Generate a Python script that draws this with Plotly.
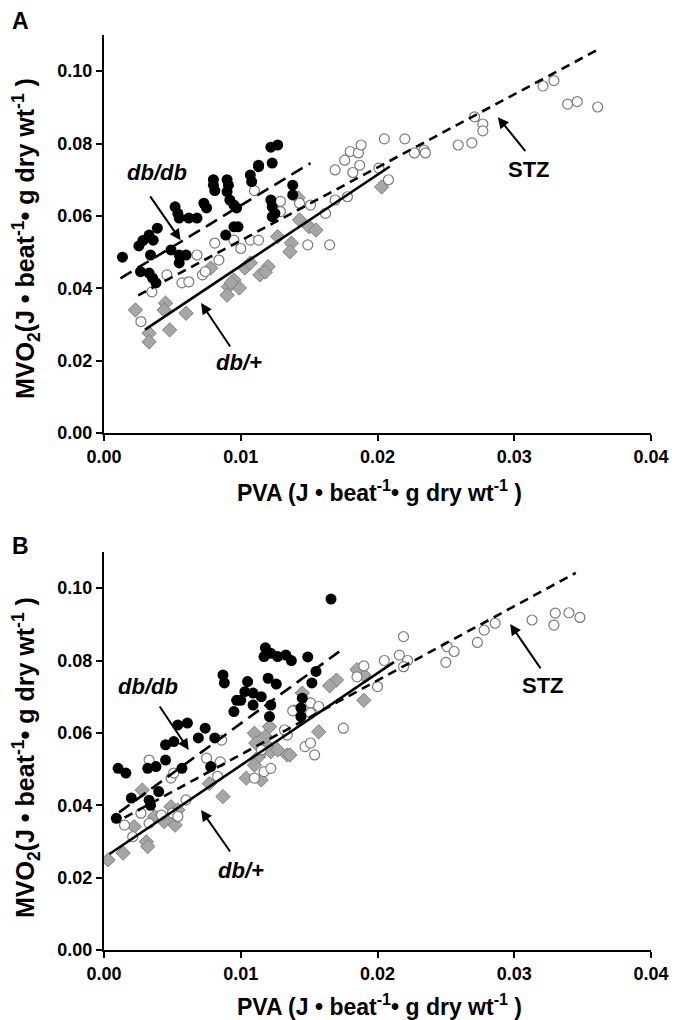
import plotly.graph_objects as go

# ---------------- Panel A data ----------------
a_dbdb_x = [0.00135,0.00255,0.00284,0.00267,0.0033,0.00356,0.0038,0.0033,0.0036,0.0034,0.0039,0.0049,0.0055,0.006,0.0055,
            0.0052,0.0054,0.0055,0.0062,0.0068,0.0073,0.0075,0.008,0.008,0.0081,0.009,0.0091,0.009,0.0092,0.0095,0.0097,
            0.0089,0.0095,0.0098,0.0107,0.0108,0.0113,0.0122,0.0127,0.0123,0.0113,0.0138,0.0138,0.0122,0.0123,0.0125,0.0123]
a_dbdb_y = [0.0486,0.0517,0.0532,0.0446,0.0442,0.0428,0.0415,0.0547,0.0533,0.0492,0.0566,0.0506,0.0492,0.0492,0.047,
            0.0625,0.0607,0.0594,0.0594,0.0594,0.0635,0.0622,0.070,0.0685,0.067,0.070,0.0685,0.0667,0.0644,0.063,0.0622,
            0.0547,0.057,0.057,0.0713,0.0695,0.074,0.079,0.0796,0.0746,0.0736,0.0685,0.0658,0.0644,0.0625,0.0607,0.0598]

a_stz_x = [0.0027,0.0035,0.0046,0.0057,0.0062,0.0072,0.0074,0.0068,0.0081,0.0084,0.0095,0.010,0.0107,0.011,0.0113,
           0.0129,0.0129,0.0143,0.0151,0.0162,0.0169,0.0178,0.0169,0.0176,0.018,0.0186,0.0188,0.0187,0.0182,0.0205,
           0.0201,0.0208,0.0149,0.0165,0.022,0.0227,0.0234,0.0235,0.0259,0.0269,0.0271,0.0277,0.0277,0.0321,0.0329,
           0.0339,0.0346,0.0361]
a_stz_y = [0.0308,0.039,0.0437,0.0415,0.0418,0.0437,0.0446,0.0492,0.0525,0.0478,0.0533,0.051,0.0533,0.067,0.0533,
           0.064,0.0612,0.0635,0.063,0.0607,0.0644,0.0653,0.0727,0.0754,0.0778,0.0774,0.0796,0.074,0.072,0.0813,
           0.0732,0.070,0.052,0.052,0.0813,0.0774,0.0782,0.0774,0.0796,0.0802,0.0874,0.0854,0.0835,0.0959,0.0974,
           0.0909,0.0916,0.0901]

a_dbp_x = [0.0023,0.0033,0.0033,0.0045,0.0044,0.0048,0.006,0.0078,0.0091,0.009,0.0095,0.0099,0.0103,0.0107,0.0114,
           0.012,0.0118,0.0127,0.0137,0.0136,0.0143,0.015,0.0155,0.0142,0.0203,0.0093]
a_dbp_y = [0.034,0.0276,0.0252,0.0359,0.034,0.0285,0.0331,0.0456,0.0404,0.0381,0.0423,0.0401,0.0456,0.047,0.0437,
           0.046,0.0445,0.0543,0.0525,0.0501,0.0589,0.057,0.0561,0.065,0.068,0.0415]

# regression lines: [intercept, slope, x_start, x_end]
a_fit_dbdb = [0.040, 2.29, 0.0012, 0.0151]
a_fit_stz = [0.033, 2.02, 0.0025, 0.0360]
a_fit_dbp = [0.021, 2.52, 0.0030, 0.0209]

# ---------------- Panel B data ----------------
b_dbdb_x = [0.00103,0.0016,0.0009,0.002,0.0033,0.0034,0.004,0.0032,0.0038,0.0045,0.0045,0.0051,0.0054,0.0061,0.0057,
            0.0069,0.0074,0.0081,0.0078,0.0087,0.0088,0.0095,0.010,0.0105,0.0103,0.0109,0.0115,0.0109,0.0122,0.0121,
            0.0117,0.0122,0.0127,0.012,0.0137,0.0145,0.0144,0.0144,0.0152,0.0166,0.0118,0.0133,0.0149,0.0155,0.0126,0.0097]
b_dbdb_y = [0.0502,0.0489,0.0364,0.042,0.0414,0.040,0.0438,0.0502,0.0507,0.0525,0.0567,0.0576,0.0622,0.0627,0.0502,
            0.0586,0.0613,0.0586,0.0507,0.076,0.0738,0.0659,0.069,0.0742,0.0714,0.071,0.070,0.0677,0.0677,0.0645,
            0.0811,0.082,0.0811,0.0751,0.080,0.0696,0.0669,0.0645,0.0738,0.097,0.0835,0.0815,0.081,0.077,0.0735,0.069]

b_stz_x = [0.0015,0.0021,0.0027,0.0033,0.0033,0.0042,0.005,0.0054,0.006,0.0049,0.0051,0.0075,0.0083,0.0085,0.0086,
           0.011,0.0115,0.0117,0.0122,0.0134,0.0139,0.0132,0.0138,0.0147,0.0151,0.0154,0.0151,0.0157,0.0151,0.0175,
           0.020,0.0185,0.019,0.0205,0.0219,0.0216,0.0222,0.0219,0.0251,0.0256,0.025,0.0273,0.0278,0.0286,0.0313,
           0.0329,0.033,0.034,0.0348]
b_stz_y = [0.0345,0.0313,0.0378,0.035,0.0525,0.0373,0.0378,0.0369,0.0415,0.0475,0.0489,0.053,0.048,0.052,0.058,
           0.0475,0.0553,0.0493,0.0502,0.0594,0.0663,0.0608,0.0661,0.0562,0.0572,0.0539,0.0683,0.0673,0.0655,0.0613,
           0.0728,0.0755,0.0785,0.080,0.0866,0.0815,0.080,0.0783,0.0838,0.0825,0.0795,0.085,0.0884,0.0903,0.0912,
           0.0898,0.0931,0.0932,0.0919]

b_dbp_x = [0.0003,0.0014,0.0022,0.0028,0.0031,0.0032,0.0037,0.0044,0.0049,0.0051,0.0054,0.0052,0.0077,0.0087,0.011,
           0.0111,0.0113,0.011,0.0104,0.0115,0.0117,0.012,0.0122,0.0127,0.0121,0.0118,0.0134,0.0136,0.0157,0.019,
           0.017,0.019,0.0185,0.0145,0.0165]
b_dbp_y = [0.0249,0.0268,0.0341,0.0442,0.0299,0.0286,0.0369,0.0355,0.0396,0.0373,0.0387,0.0345,0.046,0.0424,0.0599,
           0.0572,0.0534,0.0511,0.0475,0.047,0.0553,0.0562,0.0548,0.0553,0.0617,0.059,0.0539,0.0539,0.0603,0.069,
           0.0746,0.076,0.0775,0.071,0.073]

b_fit_dbdb = [0.0350, 2.76, 0.0011, 0.0172]
b_fit_stz = [0.0335, 2.05, 0.0015, 0.0345]
b_fit_dbp = [0.0255, 2.55, 0.0004, 0.0212]

x_ticks = [0.00, 0.01, 0.02, 0.03, 0.04]
y_ticks = [0.00, 0.02, 0.04, 0.06, 0.08, 0.10]

FONT = "Liberation Sans, Arial, sans-serif"
fig = go.Figure()

def add_panel(xa, ya, dbdb, stz, dbp, fits):
    (dx, dy), (sx, sy), (px_, py_) = dbdb, stz, dbp
    fig.add_trace(go.Scatter(x=px_, y=py_, mode="markers", xaxis=xa, yaxis=ya, showlegend=False,
                             marker=dict(symbol="diamond", size=11, color="#a6a6a6",
                                         line=dict(color="#808080", width=1))))
    fig.add_trace(go.Scatter(x=sx, y=sy, mode="markers", xaxis=xa, yaxis=ya, showlegend=False,
                             marker=dict(symbol="circle", size=10, color="white",
                                         line=dict(color="#7a7a7a", width=1.2))))
    fig.add_trace(go.Scatter(x=dx, y=dy, mode="markers", xaxis=xa, yaxis=ya, showlegend=False,
                             marker=dict(symbol="circle", size=11, color="black")))
    for (a, b, x0, x1), dash in zip(fits, ["13px,7px", "9px,6px", "solid"]):
        fig.add_trace(go.Scatter(x=[x0, x1], y=[a + b * x0, a + b * x1], mode="lines",
                                 xaxis=xa, yaxis=ya, showlegend=False,
                                 line=dict(color="black", width=2.6, dash=dash)))

add_panel("x", "y", (a_dbdb_x, a_dbdb_y), (a_stz_x, a_stz_y), (a_dbp_x, a_dbp_y),
          [a_fit_dbdb, a_fit_stz, a_fit_dbp])
add_panel("x2", "y2", (b_dbdb_x, b_dbdb_y), (b_stz_x, b_stz_y), (b_dbp_x, b_dbp_y),
          [b_fit_dbdb, b_fit_stz, b_fit_dbp])

axis_common = dict(showgrid=False, zeroline=False, showline=True, linecolor="black", linewidth=2,
                   ticks="outside", ticklen=6, tickwidth=2, tickcolor="black",
                   tickfont=dict(family=FONT, size=18, color="black", weight="bold"))
xcommon = dict(axis_common, range=[0, 0.04], tickvals=x_ticks, ticktext=[f"{v:.2f}" for v in x_ticks])
ycommon = dict(axis_common, range=[0, 0.11], tickvals=y_ticks, ticktext=[f"{v:.2f}" for v in y_ticks])

# the page body adds an 8px offset; figure is sized so the plot lands where the reference has it
fig.update_layout(
    width=673, height=1012, paper_bgcolor="white", plot_bgcolor="white",
    margin=dict(l=96, r=23, t=27, b=70),
    xaxis=dict(xcommon, domain=[0, 1], anchor="y"),
    yaxis=dict(ycommon, domain=[0.565, 1], anchor="x"),
    xaxis2=dict(xcommon, domain=[0, 1], anchor="y2"),
    yaxis2=dict(ycommon, domain=[0, 0.435], anchor="x2"),
)

xtitle = "PVA (J \u2022 beat<sup>-1</sup>\u2022 g dry wt<sup>-1</sup> )"
ytitle = "MVO<sub>2</sub>(J \u2022 beat<sup>-1</sup>\u2022 g dry wt<sup>-1</sup> )"
xtfont = dict(family=FONT, size=23, color="black", weight="bold")
ytfont = dict(family=FONT, size=25, color="black", weight="bold")
lfont = dict(family=FONT, size=22, color="black", weight="bold")

# helpers: reference-pixel positions -> paper fractions (plot area 104..658 x 35..950)
def py(pix):
    return 1 - (pix - 35) / 915.0

def px(pix):
    return (pix - 104) / 554.0

C = dict(xanchor="center", yanchor="middle", showarrow=False, xref="paper", yref="paper")
ann = [
    dict(C, text=xtitle, x=px(383), y=py(491), font=xtfont),
    dict(C, text=xtitle, x=px(383), y=py(1005), font=xtfont),
    dict(C, text=ytitle, x=px(25), y=py(238), font=ytfont, textangle=-90),
    dict(C, text=ytitle, x=px(25), y=py(757), font=ytfont, textangle=-90),
    dict(C, text="A", x=px(19), y=py(21), font=dict(family=FONT, size=23, color="black", weight="bold")),
    dict(C, text="B", x=px(19), y=py(546), font=dict(family=FONT, size=23, color="black", weight="bold")),
]

def labels(xr, yr, items):
    out = []
    for txt, lx, ly, italic, tail, head in items:
        out.append(dict(text=txt, x=lx, y=ly, xref=xr, yref=yr, showarrow=False,
                        xanchor="center", yanchor="middle",
                        font=dict(lfont, style="italic" if italic else "normal")))
        out.append(dict(text="", x=head[0], y=head[1], ax=tail[0], ay=tail[1], xref=xr, yref=yr,
                        axref=xr, ayref=yr, showarrow=True, arrowhead=2, arrowsize=1.1,
                        arrowwidth=2, arrowcolor="black"))
    return out

ann += labels("x", "y", [
    ("db/db", 0.0039, 0.0721, True, (0.0033, 0.0658), (0.0056, 0.0533)),
    ("db/+", 0.0099, 0.0196, True, (0.0093, 0.0235), (0.0071, 0.0359)),
    ("STZ", 0.0311, 0.0727, False, (0.0309, 0.0775), (0.0288, 0.0873)),
])
ann += labels("x2", "y2", [
    ("db/db", 0.0032, 0.0727, True, (0.0040, 0.0677), (0.0062, 0.0553)),
    ("db/+", 0.0100, 0.0221, True, (0.0093, 0.0268), (0.0071, 0.0387)),
    ("STZ", 0.0321, 0.0732, False, (0.0320, 0.0774), (0.0297, 0.0901)),
])

fig.update_layout(annotations=ann)
fig.write_html("out.html")
